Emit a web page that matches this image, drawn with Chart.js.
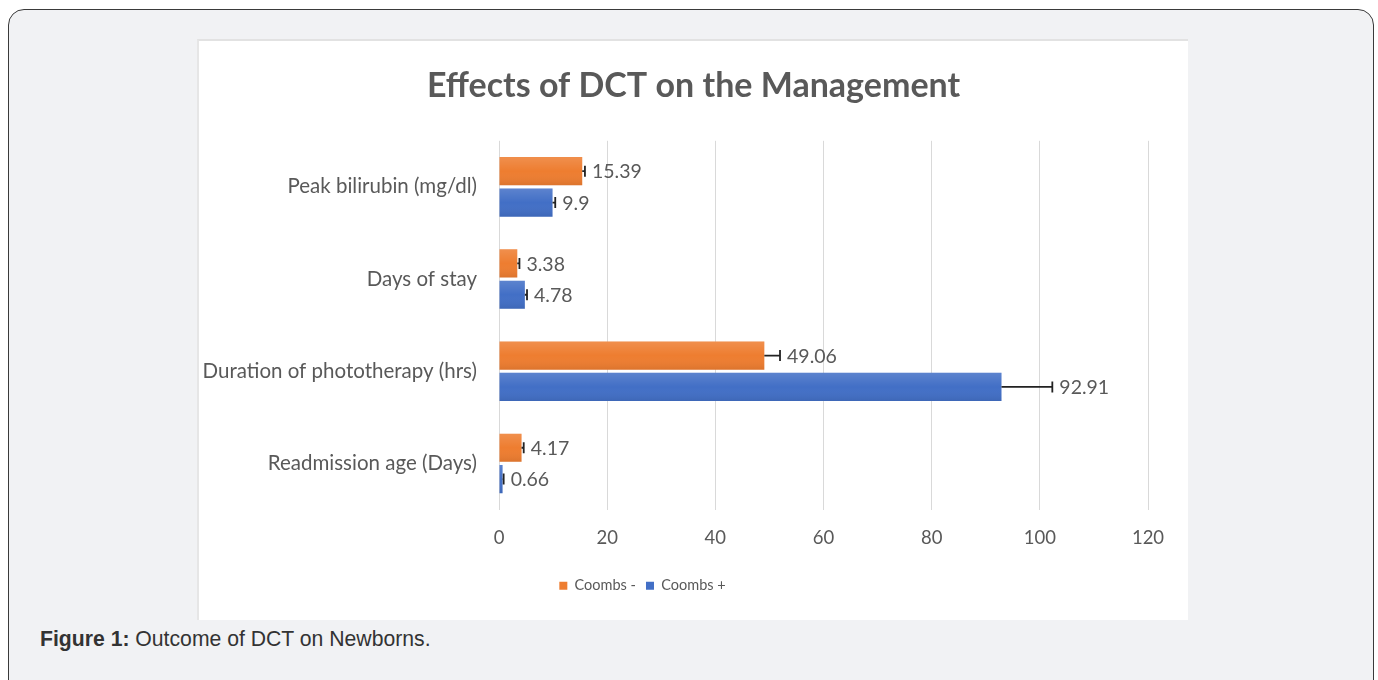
<!DOCTYPE html>
<html>
<head>
<meta charset="utf-8">
<script src="https://cdn.jsdelivr.net/npm/chart.js@4.4.1/dist/chart.umd.min.js"></script>
<style>
  html, body { margin: 0; padding: 0; background: #ffffff; width: 1378px; height: 680px; overflow: hidden; }
  #card { position: absolute; left: 8px; top: 9px; width: 1366px; height: 690px; border: 1.5px solid #3a3a3a; border-radius: 16px; background: #f1f2f4; box-sizing: border-box; }
  #box { position: absolute; left: 197px; top: 39px; width: 991px; height: 581px; background: #ffffff; border-top: 2px solid #e2e2e2; border-left: 2px solid #e6e6e6; box-sizing: border-box; }
  #box canvas { position: absolute; left: -2px; top: -2px; }
  #caption { position: absolute; left: 40px; top: 627px; font-family: "Liberation Sans", Arial, sans-serif; font-size: 21.2px; color: #333; }
</style>
</head>
<body>
<div id="card"></div>
<div id="box"><canvas id="c" width="991" height="581"></canvas></div>
<div id="caption"><b>Figure 1:</b> Outcome of DCT on Newborns.</div>
<script>
const categories = ["Peak bilirubin (mg/dl)", "Days of stay", "Duration of phototherapy (hrs)", "Readmission age (Days)"];
const seriesNames = ["Coombs -", "Coombs +"];
const coombsNeg = [15.39, 3.38, 49.06, 4.17];
const coombsPos = [9.9, 4.78, 92.91, 0.66];
const coombsNegErr = [0.5, 0.4, 2.9, 0.4];
const coombsPosErr = [0.5, 0.4, 9.4, 0.2];
const xTicks = [0, 20, 40, 60, 80, 100, 120];

const TXT = "#595959";
const FONT = "Lato, 'Open Sans', sans-serif";

const shadePlugin = {
  id: 'shade',
  afterDatasetsDraw(chart) {
    const ctx = chart.ctx;
    chart.data.datasets.forEach((ds, di) => {
      chart.getDatasetMeta(di).data.forEach(bar => {
        const top = bar.y - bar.height / 2, h = bar.height;
        const x0 = Math.min(bar.base, bar.x), w = Math.abs(bar.x - bar.base);
        const g = ctx.createLinearGradient(0, top, 0, top + h);
        g.addColorStop(0, 'rgba(255,255,255,0.14)');
        g.addColorStop(0.5, 'rgba(255,255,255,0)');
        g.addColorStop(1, 'rgba(0,0,0,0.08)');
        ctx.save();
        ctx.fillStyle = g;
        ctx.fillRect(x0, top, w, h);
        ctx.restore();
      });
    });
  }
};

const errPlugin = {
  id: 'errbars',
  afterDatasetsDraw(chart) {
    const ctx = chart.ctx;
    const xs = chart.scales.x;
    chart.data.datasets.forEach((ds, di) => {
      const meta = chart.getDatasetMeta(di);
      meta.data.forEach((bar, i) => {
        const v = ds.data[i];
        const e = ds.errors[i];
        const x0 = xs.getPixelForValue(v);
        const x1 = xs.getPixelForValue(v + e);
        const y = bar.y;
        ctx.save();
        ctx.strokeStyle = '#222';
        ctx.lineWidth = 1.8;
        ctx.beginPath();
        ctx.moveTo(x0, y); ctx.lineTo(x1, y);
        ctx.moveTo(x1, y - 5.5); ctx.lineTo(x1, y + 5.5);
        ctx.stroke();
        ctx.fillStyle = TXT;
        ctx.font = "19.5px " + FONT;
        ctx.textAlign = 'left';
        ctx.textBaseline = 'middle';
        ctx.fillText(String(v), x1 + 7, y + 1);
        ctx.restore();
      });
    });
  }
};

const blockShift = {
  id: 'blockShift',
  afterLayout(chart) {
    const lg = chart.legend;
    if (lg) { lg.left -= 30; lg.right -= 30; }
    const tb = chart.titleBlock;
    if (tb) { tb.left += 21; tb.right += 21; }
  }
};

new Chart(document.getElementById('c'), {
  type: 'bar',
  data: {
    labels: categories,
    datasets: [
      { label: seriesNames[0], data: coombsNeg, errors: coombsNegErr, backgroundColor: '#EE7D30', borderWidth: 0, categoryPercentage: 0.68, barPercentage: 0.9 },
      { label: seriesNames[1], data: coombsPos, errors: coombsPosErr, backgroundColor: '#426FC6', borderWidth: 0, categoryPercentage: 0.68, barPercentage: 0.9 }
    ]
  },
  options: {
    indexAxis: 'y',
    responsive: false,
    animation: false,
    layout: { padding: { left: 0, right: 40, top: 0, bottom: 17 } },
    plugins: {
      title: {
        display: true,
        text: 'Effects of DCT on the Management',
        color: TXT,
        font: { family: FONT, size: 34, weight: 'bold' },
        padding: { top: 27, bottom: 34 }
      },
      legend: {
        position: 'bottom',
        labels: {
          color: TXT,
          font: { family: FONT, size: 14.5 },
          boxWidth: 8, boxHeight: 8,
          padding: 10
        }
      },
      tooltip: { enabled: false }
    },
    scales: {
      x: {
        min: 0, max: 120,
        afterBuildTicks(scale) { scale.ticks = xTicks.map(v => ({ value: v })); },
        afterFit(scale) { scale.height = 59; },
        grid: { color: '#d9d9d9', lineWidth: 1, drawTicks: false },
        border: { display: false },
        ticks: { color: TXT, font: { family: FONT, size: 18.5 }, padding: 17 }
      },
      y: {
        afterFit(scale) { scale.width = 302; },
        grid: { display: false, drawTicks: false },
        border: { display: false },
        ticks: { color: TXT, font: { family: FONT, size: 20.5 }, padding: 22 }
      }
    }
  },
  plugins: [shadePlugin, errPlugin, blockShift]
});
</script>
</body>
</html>
